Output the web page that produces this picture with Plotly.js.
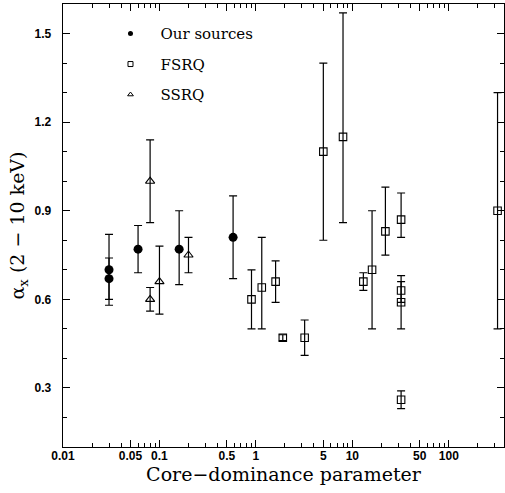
<!DOCTYPE html>
<html>
<head>
<meta charset="utf-8">
<script src="https://cdn.plot.ly/plotly-3.0.1.min.js"></script>
<style>html,body{margin:0;padding:0;background:#fff}#chart{width:505px;height:493px}</style>
</head>
<body>
<div id="chart"></div>
<script>
// Our sources (filled circles)
const ourX  = [0.03, 0.03, 0.06, 0.16, 0.58];
const ourY  = [0.70, 0.67, 0.77, 0.77, 0.81];
const ourHi = [0.82, 0.74, 0.85, 0.90, 0.95];
const ourLo = [0.60, 0.58, 0.69, 0.65, 0.67];

// FSRQ (open squares)
const fsrqX  = [0.9, 1.15, 1.6, 1.9, 3.2, 5, 8, 13, 16, 22, 32, 32, 32, 32, 320];
const fsrqY  = [0.60, 0.64, 0.66, 0.47, 0.47, 1.10, 1.15, 0.66, 0.70, 0.83, 0.87, 0.63, 0.59, 0.26, 0.90];
const fsrqHi = [0.70, 0.81, 0.73, 0.48, 0.53, 1.40, 1.57, 0.69, 0.90, 0.98, 0.96, 0.68, 0.66, 0.29, 1.30];
const fsrqLo = [0.50, 0.50, 0.59, 0.46, 0.41, 0.80, 0.86, 0.63, 0.50, 0.75, 0.81, 0.59, 0.50, 0.23, 0.50];

// SSRQ (open triangles)
const ssrqX  = [0.08, 0.08, 0.1, 0.2];
const ssrqY  = [1.00, 0.60, 0.66, 0.75];
const ssrqHi = [1.14, 0.64, 0.78, 0.81];
const ssrqLo = [0.86, 0.56, 0.55, 0.69];

// Axis ticks
const xTickVals  = [0.01, 0.05, 0.1, 0.5, 1, 5, 10, 50, 100];
const xTickText  = ["0.01", "0.05", "0.1", "0.5", "1", "5", "10", "50", "100"];
const xMinorVals = [0.02,0.03,0.04,0.06,0.07,0.08,0.09,0.2,0.3,0.4,0.6,0.7,0.8,0.9,2,3,4,6,7,8,9,20,30,40,60,70,80,90,200,300];
const yTickVals  = [0.3, 0.6, 0.9, 1.2, 1.5];
const yTickText  = ["0.3", "0.6", "0.9", "1.2", "1.5"];
const yMinorVals = [0.1,0.2,0.4,0.5,0.7,0.8,1.0,1.1,1.3,1.4,1.6];

const seriesNames = ["Our sources", "FSRQ", "SSRQ"];

function errs(y, hi, lo) {
  return {
    type: 'data', symmetric: false,
    array: y.map((v, i) => hi[i] - v),
    arrayminus: y.map((v, i) => v - lo[i]),
    color: '#000', thickness: 1.2, width: 4
  };
}

const traces = [
  {x: ourX, y: ourY, type: 'scatter', mode: 'markers', showlegend: false,
   error_y: errs(ourY, ourHi, ourLo),
   marker: {symbol: 'circle', size: 9, color: '#000'}},
  {x: fsrqX, y: fsrqY, type: 'scatter', mode: 'markers', showlegend: false,
   error_y: errs(fsrqY, fsrqHi, fsrqLo),
   marker: {symbol: 'square-open', size: 7.5, color: '#000', line: {width: 1.1, color: '#000'}}},
  {x: ssrqX, y: ssrqY, type: 'scatter', mode: 'markers', showlegend: false,
   error_y: errs(ssrqY, ssrqHi, ssrqLo),
   marker: {symbol: 'triangle-up-open', size: 8, color: '#000', line: {width: 1.1, color: '#000'}}},
  // legend entries
  {x: [null], y: [null], type: 'scatter', mode: 'markers', name: seriesNames[0], legendgroup: 'a',
   marker: {symbol: 'circle', size: 5, color: '#000'}},
  {x: [null], y: [null], type: 'scatter', mode: 'markers', name: seriesNames[1], legendgroup: 'b',
   marker: {symbol: 'square-open', size: 5, color: '#000', line: {width: 1, color: '#000'}}},
  {x: [null], y: [null], type: 'scatter', mode: 'markers', name: seriesNames[2], legendgroup: 'c',
   marker: {symbol: 'triangle-up-open', size: 5, color: '#000', line: {width: 1, color: '#000'}}}
];

const tickFont = {family: 'Liberation Sans, Arial, sans-serif', size: 12, color: '#000', weight: 'bold'};
const titleFont = {family: 'DejaVu Serif, serif', size: 19, color: '#000'};

const layout = {
  width: 505, height: 493,
  margin: {l: 63, r: 1, t: 4, b: 46},
  paper_bgcolor: '#fff', plot_bgcolor: '#fff',
  showlegend: true,
  legend: {x: 0.085, y: 0.97, xanchor: 'left', yanchor: 'top', itemwidth: 50,
           bgcolor: 'rgba(0,0,0,0)', borderwidth: 0, traceorder: 'grouped', tracegroupgap: 8,
           font: {family: 'DejaVu Serif, serif', size: 15, color: '#000'}},
  xaxis: {
    type: 'log', range: [-2, 2.572],
    showgrid: false, zeroline: false,
    showline: true, linecolor: '#000', linewidth: 1.3, mirror: 'allticks',
    ticks: 'inside', ticklen: 7, tickwidth: 1.1, tickcolor: '#000',
    tickmode: 'array', tickvals: xTickVals, ticktext: xTickText,
    tickfont: tickFont, ticklabelstandoff: -3,
    minor: {tickmode: 'array', tickvals: xMinorVals, ticks: 'inside', ticklen: 4, tickwidth: 1, tickcolor: '#000', showgrid: false},
    title: {text: 'Core\u2212dominance parameter', font: titleFont, standoff: 0}
  },
  yaxis: {
    range: [0.1, 1.6],
    showgrid: false, zeroline: false,
    showline: true, linecolor: '#000', linewidth: 1.3, mirror: 'allticks',
    ticks: 'inside', ticklen: 7, tickwidth: 1.1, tickcolor: '#000',
    tickmode: 'array', tickvals: yTickVals, ticktext: yTickText,
    tickfont: tickFont, ticklabelstandoff: 8,
    minor: {tickmode: 'array', tickvals: yMinorVals, ticks: 'inside', ticklen: 4, tickwidth: 1, tickcolor: '#000', showgrid: false},
    title: {text: '\u03b1<sub>x</sub> (2 \u2212 10 keV)', font: titleFont, standoff: 5}
  }
};

Plotly.newPlot('chart', traces, layout, {displayModeBar: false, staticPlot: true});
</script>
</body>
</html>
